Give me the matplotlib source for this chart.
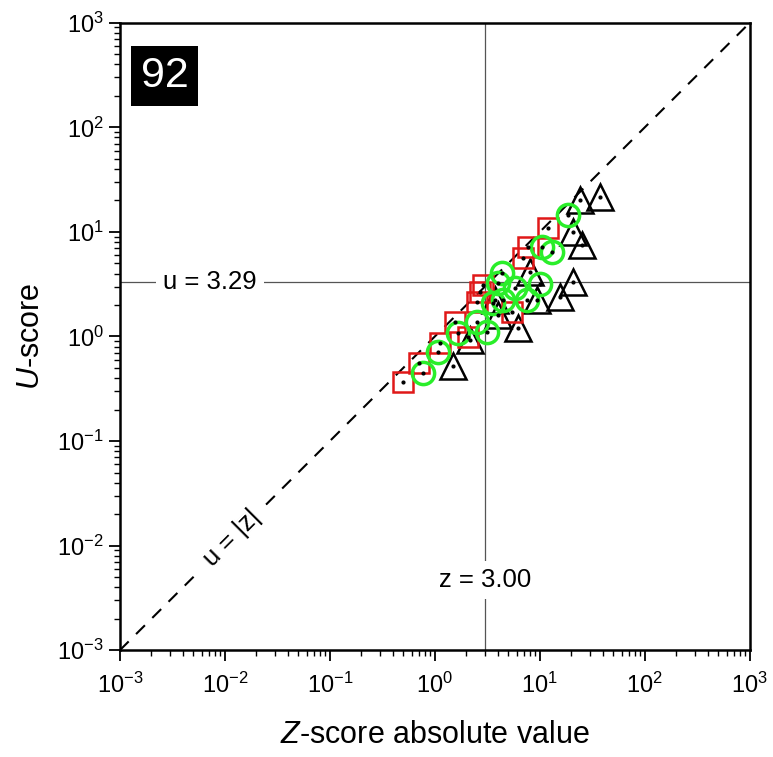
import matplotlib.pyplot as plt
from matplotlib.ticker import LogLocator, NullFormatter

plt.rcParams['font.family'] = ['Liberation Sans', 'DejaVu Sans']
plt.rcParams['axes.unicode_minus'] = False
plt.rcParams['mathtext.fontset'] = 'custom'
plt.rcParams['mathtext.rm'] = 'Liberation Sans'
plt.rcParams['mathtext.it'] = 'Liberation Sans:italic'

# red squares
sq_z = [0.50, 0.70, 1.12, 1.55, 2.06, 2.51, 2.68, 2.87, 5.41, 6.89, 7.69, 11.9]
sq_u = [0.37, 0.56, 0.87, 1.38, 0.99, 2.14, 2.67, 3.11, 1.72, 5.64, 7.18, 10.9]

# green circles
ci_z = [0.77, 1.07, 1.66, 2.51, 3.13, 3.57, 3.98, 4.35, 4.44, 5.78, 7.52, 10.0, 10.4, 13.0, 18.5]
ci_u = [0.45, 0.71, 1.08, 1.38, 1.10, 2.09, 3.25, 4.05, 2.24, 2.91, 2.24, 3.15, 7.18, 6.44, 14.5]

# black triangles
tr_z = [1.48, 2.15, 3.73, 3.98, 6.17, 8.03, 9.36, 15.5, 20.6, 20.6, 25.1, 24.0, 37.3]
tr_u = [0.52, 0.93, 2.24, 1.61, 1.21, 4.14, 2.24, 2.39, 3.32, 10.0, 7.51, 20.2, 21.6]

z_crit = 3.00
u_crit = 3.29
lims = [1e-3, 1e3]

fig = plt.figure(figsize=(7.73, 7.57), dpi=100)
ax = fig.add_axes([0.155, 0.141, 0.815, 0.829])

ax.plot(lims, lims, color='black', linestyle=(0, (6, 5)), linewidth=1.5, zorder=1)
ax.axvline(z_crit, color='#555555', linewidth=0.9, zorder=1)
ax.axhline(u_crit, color='#555555', linewidth=0.9, zorder=1)

ax.plot(tr_z, tr_u, linestyle='none', marker='^', markersize=19, markerfacecolor='none',
        markeredgecolor='black', markeredgewidth=1.8, zorder=3)
ax.plot(sq_z, sq_u, linestyle='none', marker='s', markersize=14, markerfacecolor='none',
        markeredgecolor='#e01818', markeredgewidth=1.8, zorder=3)
ax.plot(ci_z, ci_u, linestyle='none', marker='o', markersize=16, markerfacecolor='none',
        markeredgecolor='#2aee2a', markeredgewidth=2.5, zorder=4)
for xs, ys in [(tr_z, tr_u), (sq_z, sq_u), (ci_z, ci_u)]:
    ax.plot(xs, ys, linestyle='none', marker='o', markersize=2, color='black', zorder=5)

ax.set_xscale('log')
ax.set_yscale('log')
ax.set_xlim(lims)
ax.set_ylim(lims)

for axis in [ax.xaxis, ax.yaxis]:
    axis.set_major_locator(LogLocator(base=10, numticks=10))
    axis.set_minor_locator(LogLocator(base=10, subs=range(2, 10), numticks=100))
    axis.set_minor_formatter(NullFormatter())
ax.tick_params(which='major', direction='out', length=8, width=1.3, labelsize=17, top=False, right=False)
ax.tick_params(which='minor', direction='out', length=4, width=1.0, top=False, right=False)
ax.tick_params(axis='x', which='major', pad=8)
for s in ax.spines.values():
    s.set_linewidth(1.8)

ax.set_xlabel(r'$\it{Z}$-score absolute value', fontsize=22, labelpad=16)
ax.set_ylabel(r'$\it{U}$-score', fontsize=22, labelpad=8)

box = dict(facecolor='white', edgecolor='none', pad=5)
ax.text(0.0072, u_crit, 'u = 3.29', fontsize=18.5, ha='center', va='center', bbox=box, zorder=2)
ax.text(z_crit, 0.0047, 'z = 3.00', fontsize=18.5, ha='center', va='center', bbox=box, zorder=2)
ax.text(0.0118, 0.0118, 'u = |z|', fontsize=18.5, ha='center', va='center', rotation=45,
        bbox=dict(facecolor='white', edgecolor='none', pad=9), zorder=2)
ax.text(0.071, 0.915, '92', transform=ax.transAxes, fontsize=31, color='white',
        ha='center', va='center', bbox=dict(facecolor='black', edgecolor='none', pad=7))

fig.savefig('out.png', dpi=100)
